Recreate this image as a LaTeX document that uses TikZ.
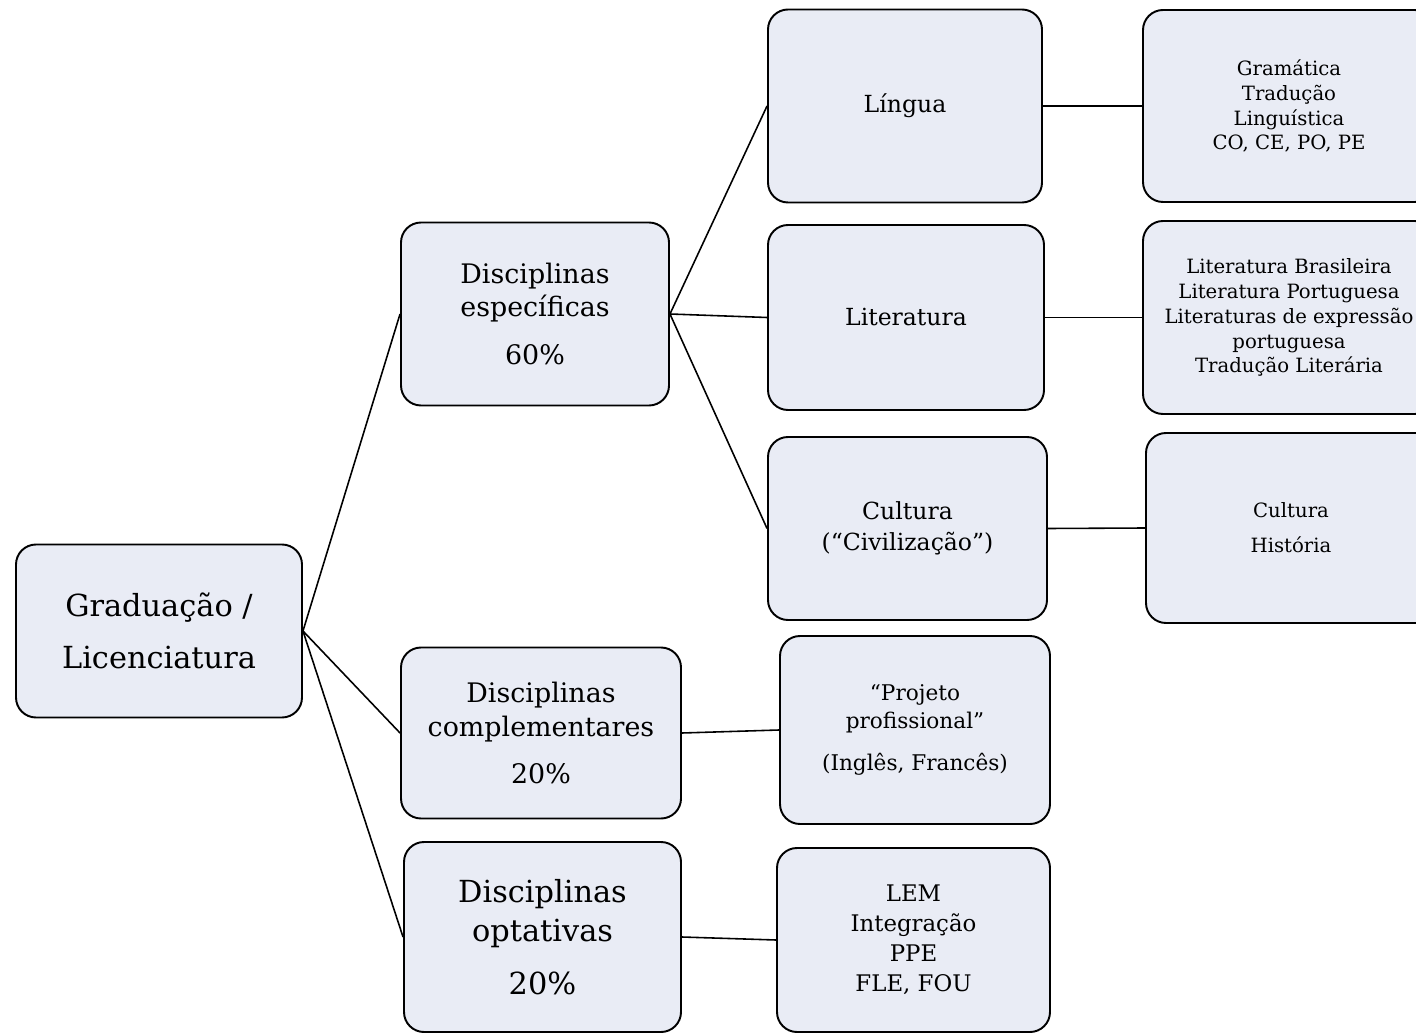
\documentclass[tikz,border=0pt]{standalone}
\usepackage{fontspec}
\setmainfont{DejaVu Serif}
\usepackage{tikz}
\definecolor{boxfill}{HTML}{E9ECF5}

\begin{document}
\begin{tikzpicture}[
		boxnode/.style={rectangle, rounded corners=0.4cm, draw=black, fill=boxfill, line width=1.1pt, align=center, inner sep=0pt},
		link/.style={draw=black, line width=0.9pt},
	]
	\useasboundingbox (0,0) rectangle (28.32,-20.68);

	%Nodes
	\node[boxnode, minimum width=5.72cm, minimum height=3.46cm, font=\fontsize{17.3}{30}\selectfont] (grad) at (3.18,-12.62) {Graduação /\\Licenciatura};

	\node[boxnode, minimum width=5.36cm, minimum height=3.66cm, font=\fontsize{15.3}{19.3}\selectfont] (esp) at (10.70,-6.28) {Disciplinas\\específicas\\[8pt]60\%};
	\node[boxnode, minimum width=5.60cm, minimum height=3.42cm, font=\fontsize{15.3}{19.3}\selectfont] (compl) at (10.82,-14.66) {Disciplinas\\complementares\\[7pt]20\%};
	\node[boxnode, minimum width=5.54cm, minimum height=3.80cm, font=\fontsize{17.3}{22}\selectfont] (opt) at (10.85,-18.74) {Disciplinas\\optativas\\[8pt]20\%};

	\node[boxnode, minimum width=5.48cm, minimum height=3.86cm, font=\fontsize{13.4}{18}\selectfont] (lingua) at (18.10,-2.12) {Língua};
	\node[boxnode, minimum width=5.52cm, minimum height=3.70cm, font=\fontsize{13.4}{18}\selectfont] (lit) at (18.12,-6.35) {Literatura};
	\node[boxnode, minimum width=5.58cm, minimum height=3.66cm, font=\fontsize{13.4}{18}\selectfont] (cult) at (18.15,-10.57) {Cultura\\(“Civilização”)};
	\node[boxnode, minimum width=5.40cm, minimum height=3.76cm, font=\fontsize{12.3}{16}\selectfont] (proj) at (18.30,-14.60) {“Projeto\\profissional”\\[8pt](Inglês, Francês)};
	\node[boxnode, minimum width=5.46cm, minimum height=3.68cm, font=\fontsize{13}{17}\selectfont] (lem) at (18.27,-18.80) {LEM\\Integração\\PPE\\FLE, FOU};

	\node[boxnode, minimum width=5.84cm, minimum height=3.84cm, font=\fontsize{11.2}{14.2}\selectfont] (gram) at (25.78,-2.12) {Gramática\\Tradução\\Linguística\\CO, CE, PO, PE};
	\node[boxnode, minimum width=5.84cm, minimum height=3.86cm, font=\fontsize{11.2}{14.2}\selectfont] (litb) at (25.78,-6.35) {Literatura Brasileira\\Literatura Portuguesa\\Literaturas de expressão\\portuguesa\\Tradução Literária};
	\node[boxnode, minimum width=5.80cm, minimum height=3.80cm, font=\fontsize{11.2}{19.8}\selectfont] (hist) at (25.82,-10.56) {Cultura\\História};

	%Lines
	\draw[link] (grad.east) -- (esp.west);
	\draw[link] (grad.east) -- (compl.west);
	\draw[link] (grad.east) -- (opt.west);
	\draw[link] (esp.east) -- (lingua.west);
	\draw[link] (esp.east) -- (lit.west);
	\draw[link] (esp.east) -- (cult.west);
	\draw[link] (compl.east) -- (proj.west);
	\draw[link] (opt.east) -- (lem.west);
	\draw[link] (lingua.east) -- (gram.west);
	\draw[link] (lit.east) -- (litb.west);
	\draw[link] (cult.east) -- (hist.west);

\end{tikzpicture}
\end{document}
